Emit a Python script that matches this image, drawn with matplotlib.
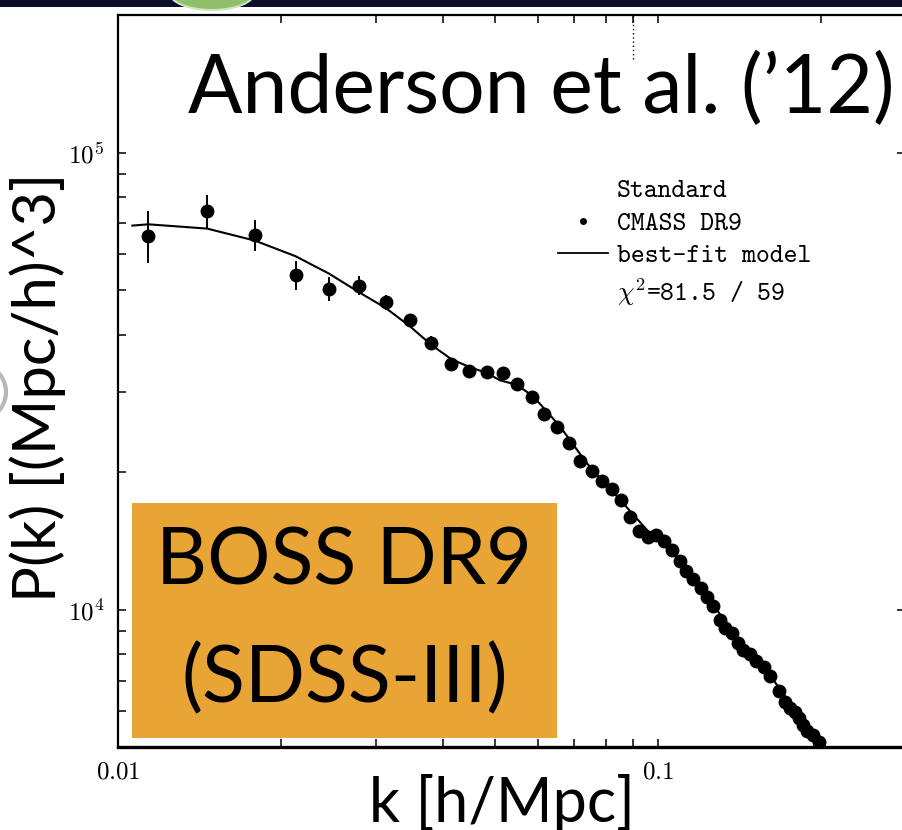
import matplotlib
matplotlib.use("Agg")
import matplotlib.pyplot as plt
from matplotlib.lines import Line2D
from matplotlib.patches import Rectangle, Ellipse, Arc
from matplotlib.ticker import FixedLocator, FixedFormatter, LogLocator, NullFormatter

plt.rcParams["mathtext.fontset"] = "cm"

# CMASS DR9 power spectrum measurements
k_data = [0.01138, 0.01463, 0.01794, 0.02134, 0.02459, 0.02798, 0.03131, 0.03473,
          0.03799, 0.04137, 0.04473, 0.04817, 0.05157, 0.05489, 0.05843, 0.06157,
          0.06509, 0.06850, 0.07180, 0.07538, 0.07877, 0.08210, 0.08541, 0.08874,
          0.09222, 0.09570, 0.09915, 0.1026, 0.1063, 0.1098, 0.1127, 0.1163,
          0.1200, 0.1232, 0.1266, 0.1302, 0.1331, 0.1369, 0.1408, 0.1439,
          0.1480, 0.1519, 0.1573, 0.1612, 0.1675, 0.1719, 0.1756, 0.1794,
          0.1827, 0.1858, 0.1886, 0.1940, 0.1987]
P_data = [65820, 74390, 66050, 53890, 50400, 51170, 47030, 42960,
          38340, 34480, 33340, 33120, 32960, 31180, 29150, 26850,
          25060, 23120, 21160, 20120, 19090, 18370, 17350, 15950,
          14890, 14400, 14590, 14160, 13480, 12800, 12170, 11690,
          11160, 10640, 10200, 9510, 9120, 8890, 8480, 8150,
          8010, 7710, 7510, 7150, 6650, 6300, 6090, 5990,
          5800, 5600, 5420, 5330, 5140]
P_err = [8550, 6400, 5000, 3950, 3150, 2450, 1800, 1500,
         1300, 1100, 950, 900, 850, 800, 700, 650,
         600, 550, 500, 480, 450, 420, 400, 380,
         360, 340, 330, 320, 300, 290, 280, 270,
         260, 250, 240, 230, 220, 210, 200, 195,
         190, 185, 180, 175, 170, 165, 160, 155,
         150, 145, 140, 135, 130]

# best-fit model curve
k_model = [0.01063, 0.01138, 0.01463, 0.01794, 0.02134, 0.02459, 0.02798, 0.03131,
           0.03473, 0.03799, 0.04137, 0.04473, 0.04817, 0.05098, 0.05475, 0.05875,
           0.06222, 0.06584, 0.06970, 0.07379, 0.07808, 0.08505, 0.09001, 0.09530,
           0.1067, 0.1163, 0.1266, 0.1378, 0.1501, 0.1635, 0.1781, 0.1940, 0.2082]
P_model = [69240, 69690, 68200, 64180, 59320, 54360, 49460, 45730,
           41690, 38010, 35370, 33970, 32960, 31760, 31070, 29290,
           27160, 25180, 22960, 20940, 19420, 17410, 16140, 14970,
           13310, 11830, 10250, 8890, 7903, 7029, 6095, 5374, 4800]

x_ticks = [0.01, 0.1]
x_ticklabels = [r"$\mathtt{0.01}$", r"$\mathtt{0.1}$"]
y_ticks = [1e4, 1e5]
y_ticklabels = [r"$10^{4}$", r"$10^{5}$"]

legend_title = "Standard"
data_label = "CMASS DR9"
model_label = "best-fit model"
chi2_label = r"$\chi^2$=81.5 / 59"

W, H = 903, 830
fig = plt.figure(figsize=(W / 100, H / 100), dpi=100)
fig.patch.set_facecolor("white")

ax = fig.add_axes([118 / W, 1 - 747 / H, (905 - 118) / W, (747 - 15) / H])
ax.set_xscale("log")
ax.set_yscale("log")
ax.set_xlim(0.01, 0.2867)
ax.set_ylim(5010, 2.0e5)

ax.errorbar(k_data, P_data, yerr=P_err, fmt="o", color="black", ms=9,
            elinewidth=1.4, capsize=0, zorder=3)
ax.plot(k_model, P_model, color="black", lw=1.5, zorder=2)
ax.axvline(0.09, ymin=0.94, ymax=1.0, color="black", lw=1, ls=(0, (1, 2)))

for side, lw in [("left", 1.6), ("bottom", 2.4), ("top", 1.6), ("right", 1.6)]:
    ax.spines[side].set_linewidth(lw)

ax.xaxis.set_major_locator(FixedLocator(x_ticks))
ax.xaxis.set_major_formatter(FixedFormatter(x_ticklabels))
ax.xaxis.set_minor_locator(LogLocator(base=10, subs=range(2, 10)))
ax.xaxis.set_minor_formatter(NullFormatter())
ax.yaxis.set_major_locator(FixedLocator(y_ticks))
ax.yaxis.set_major_formatter(FixedFormatter(y_ticklabels))
ax.yaxis.set_minor_locator(LogLocator(base=10, subs=range(2, 10)))
ax.yaxis.set_minor_formatter(NullFormatter())

ax.tick_params(which="both", direction="in", top=True, right=True, width=1.1)
ax.tick_params(which="major", length=6, pad=9, labelsize=18)
ax.tick_params(axis="y", which="major", pad=10)
ax.tick_params(which="minor", length=5.5)
ax.tick_params(axis="y", which="minor", right=False)

# legend
tt = dict(family="cmtt10", size=19)
handles = [Line2D([], [], ls="none", marker=None),
           Line2D([], [], ls="none", marker="o", color="black", ms=4),
           Line2D([], [], ls="-", color="black", lw=1.3),
           Line2D([], [], ls="none", marker=None)]
leg = ax.legend(handles, [legend_title, data_label, model_label, chi2_label],
                loc="upper left", bbox_to_anchor=((558 - 118) / 787, (747 - 179) / 732),
                frameon=False, prop=tt, handlelength=1.9, handletextpad=0.34,
                labelspacing=0.3, borderpad=0, borderaxespad=0)

# big slide annotations
big = "Lato"
fig.text(541 / W, 1 - 113 / H, "Anderson et al. (\u201912)", family=big, size=58,
         ha="center", va="baseline", color="black")

box_l, box_r, box_t, box_b = 132, 557, 503, 738
fig.patches.append(Rectangle((box_l / W, 1 - box_b / H), (box_r - box_l) / W,
                             (box_b - box_t) / H, transform=fig.transFigure,
                             facecolor="#E8A435", edgecolor="none", zorder=5))
fig.text((box_l + box_r) / 2 / W, 1 - 562 / H, "BOSS DR9", family=big, size=57,
         ha="center", va="center", zorder=6)
fig.text((box_l + box_r) / 2 / W, 1 - 680 / H, "(SDSS-III)", family=big, size=57,
         ha="center", va="center", zorder=6)

fig.text(502 / W, 1 - 803 / H, "k [h/Mpc]", family=big, size=44,
         ha="center", va="center")
fig.text(38 / W, 1 - 387 / H, "P(k) [(Mpc/h)^3]", family=big, size=43,
         ha="center", va="center", rotation=90)

# slide frame pieces
fig.patches.append(Rectangle((0, 1 - 7 / H), 1, 7 / H, transform=fig.transFigure,
                             facecolor="#0c0c2c", edgecolor="none", zorder=8))
fig.patches.append(Ellipse((212 / W, 1 + 8 / H), 86 / W, 36 / H,
                           transform=fig.transFigure, facecolor="#8fbf6a",
                           edgecolor="#cfe3bf", lw=1.5, zorder=9))
fig.patches.append(Arc((-22 / W, 1 - 392 / H), 56 / W, 56 / H, theta1=-55, theta2=55,
                       transform=fig.transFigure, color="#b8b8b8", lw=3, zorder=9))

fig.savefig("out.png", dpi=100)
